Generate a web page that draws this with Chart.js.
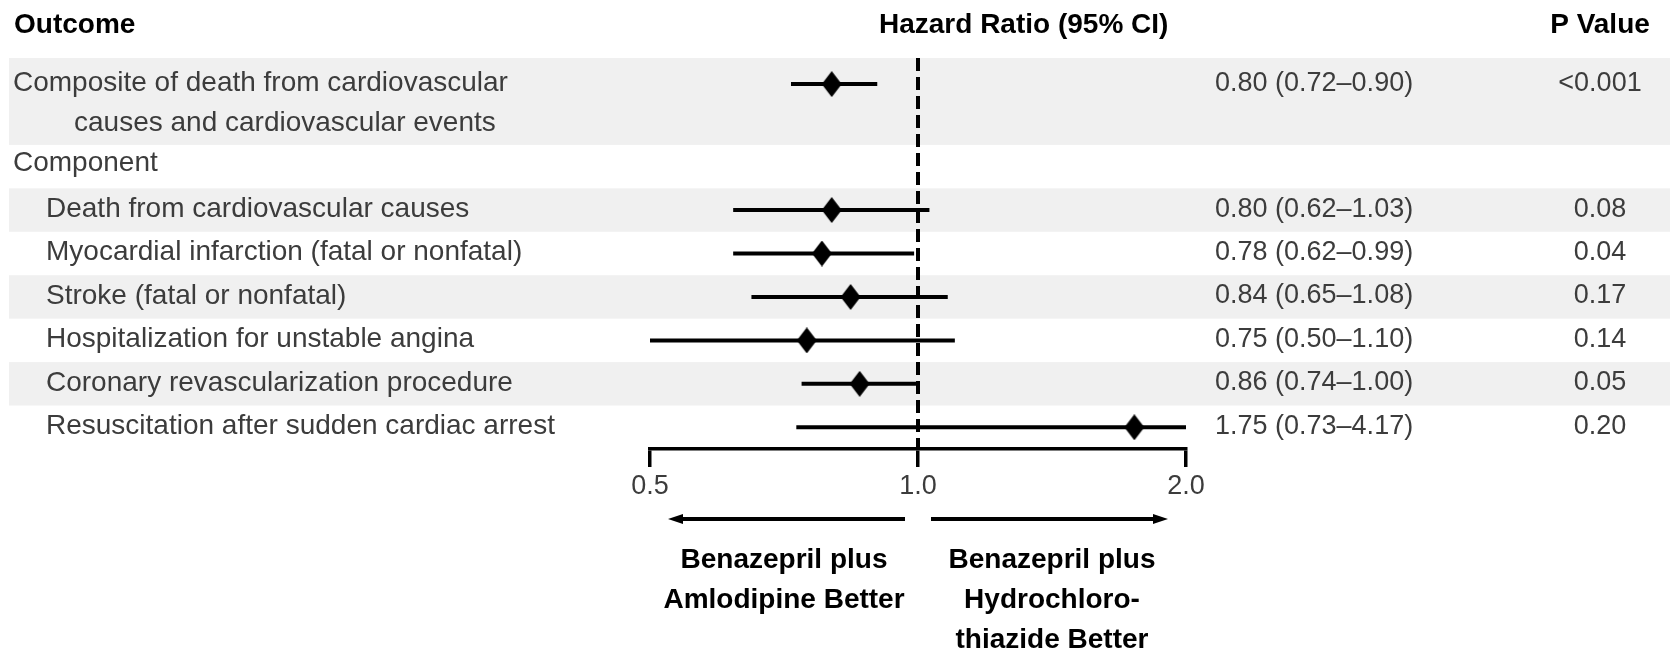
<!DOCTYPE html>
<html>
<head>
<meta charset="utf-8">
<script src="https://cdn.jsdelivr.net/npm/chart.js@4.4.0/dist/chart.umd.min.js"></script>
<style>
  html, body { margin: 0; padding: 0; background: #fff; }
  canvas { display: block; }
</style>
</head>
<body>
<canvas id="forest" width="1670" height="650"></canvas>
<script>
// --- Data ---
const outcomes = [
    ["Composite of death from cardiovascular", "causes and cardiovascular events"],
    ["Component"],
    ["Death from cardiovascular causes"],
    ["Myocardial infarction (fatal or nonfatal)"],
    ["Stroke (fatal or nonfatal)"],
    ["Hospitalization for unstable angina"],
    ["Coronary revascularization procedure"],
    ["Resuscitation after sudden cardiac arrest"]
];
const hazardRatios = [0.80, null, 0.80, 0.78, 0.84, 0.75, 0.86, 1.75];
const ciLower      = [0.72, null, 0.62, 0.62, 0.65, 0.50, 0.74, 0.73];
const ciUpper      = [0.90, null, 1.03, 0.99, 1.08, 1.10, 1.00, 4.17];
const pValues      = ["<0.001", "", "0.08", "0.04", "0.17", "0.14", "0.05", "0.20"];
const axisTicks    = [0.5, 1.0, 2.0];
const favourLeft   = ["Benazepril plus", "Amlodipine Better"];
const favourRight  = ["Benazepril plus", "Hydrochloro-", "thiazide Better"];

// --- Layout ---
const rowPos = [0.1, 1.95, 3, 4, 5, 6, 7, 8];     // slot of each row on the y scale
const indented = [false, false, true, true, true, true, true, true];
const bands = [[-0.5, 1.5], [2.5, 3.5], [4.5, 5.5], [6.5, 7.5]];
const FONT = '"Liberation Sans", Arial, sans-serif';
const TEXT = "#3c3c3c";

function diamond(w, h) {
    const c = document.createElement("canvas");
    c.width = w; c.height = h;
    const g = c.getContext("2d");
    g.fillStyle = "#000";
    g.beginPath();
    g.moveTo(w / 2, 0); g.lineTo(w, h / 2); g.lineTo(w / 2, h); g.lineTo(0, h / 2);
    g.closePath();
    g.fill();
    return c;
}
const marker = diamond(20, 26);

const points = [];
hazardRatios.forEach((hr, i) => { if (hr !== null) points.push({ x: hr, y: rowPos[i] }); });

function arrow(ctx, x1, x2, y) {
    const dir = Math.sign(x2 - x1);
    ctx.beginPath();
    ctx.moveTo(x1, y);
    ctx.lineTo(x2 - dir * 10, y);
    ctx.stroke();
    ctx.beginPath();
    ctx.moveTo(x2, y);
    ctx.lineTo(x2 - dir * 15, y - 5);
    ctx.lineTo(x2 - dir * 15, y + 5);
    ctx.closePath();
    ctx.fill();
}

// --- Decorations: bands, reference line, CIs, text ---
const forestDecor = {
    id: "forestDecor",
    beforeDraw(chart) {
        const { ctx, scales: { y } } = chart;
        ctx.save();
        ctx.fillStyle = "#f0f0f0";
        bands.forEach(([a, b]) => {
            const top = y.getPixelForValue(a);
            ctx.fillRect(9, top, chart.width - 9, y.getPixelForValue(b) - top);
        });
        ctx.restore();
    },
    beforeDatasetsDraw(chart) {
        const { ctx, chartArea, scales: { x, y } } = chart;
        ctx.save();
        // line of no effect
        ctx.strokeStyle = "#000";
        ctx.lineWidth = 4;
        ctx.setLineDash([13, 6]);
        const x1 = x.getPixelForValue(1);
        ctx.beginPath();
        ctx.moveTo(x1, chartArea.top);
        ctx.lineTo(x1, chartArea.bottom);
        ctx.stroke();
        ctx.setLineDash([]);
        // confidence intervals, clipped to the axis range
        hazardRatios.forEach((hr, i) => {
            if (hr === null) return;
            const lo = Math.max(ciLower[i], x.min);
            const hi = Math.min(ciUpper[i], x.max);
            const py = y.getPixelForValue(rowPos[i]);
            ctx.beginPath();
            ctx.moveTo(x.getPixelForValue(lo), py);
            ctx.lineTo(x.getPixelForValue(hi), py);
            ctx.stroke();
        });
        ctx.restore();
    },
    afterDraw(chart) {
        const { ctx, scales: { x, y } } = chart;
        ctx.save();
        ctx.textBaseline = "middle";

        // headers
        ctx.fillStyle = "#000";
        ctx.font = "bold 28px " + FONT;
        ctx.textAlign = "left";
        ctx.fillText("Outcome", 14, 25);
        ctx.fillText("Hazard Ratio (95% CI)", 879, 25);
        ctx.textAlign = "center";
        ctx.fillText("P Value", 1600, 25);

        // rows
        ctx.fillStyle = TEXT;
        outcomes.forEach((lines, i) => {
            const py = y.getPixelForValue(rowPos[i]) - 1;
            ctx.font = "28px " + FONT;
            ctx.textAlign = "left";
            lines.forEach((txt, k) => {
                const lx = indented[i] ? 46 : (k === 0 ? 13 : 74);
                ctx.fillText(txt, lx, py + k * 40);
            });
            if (hazardRatios[i] === null) return;
            ctx.font = "27px " + FONT;
            const hrText = hazardRatios[i].toFixed(2) + " (" + ciLower[i].toFixed(2) +
                "\u2013" + ciUpper[i].toFixed(2) + ")";
            ctx.fillText(hrText, 1215, py);
            ctx.textAlign = "center";
            ctx.fillText(pValues[i], 1600, py);
        });

        // direction arrows
        const p05 = x.getPixelForValue(axisTicks[0]);
        const p1 = x.getPixelForValue(axisTicks[1]);
        const p2 = x.getPixelForValue(axisTicks[2]);
        ctx.strokeStyle = "#000";
        ctx.fillStyle = "#000";
        ctx.lineWidth = 4;
        arrow(ctx, p1 - 13, p05 + 18, 519);
        arrow(ctx, p1 + 13, p2 - 18, 519);

        // favour labels
        ctx.font = "bold 28px " + FONT;
        ctx.textAlign = "center";
        favourLeft.forEach((t, k) => ctx.fillText(t, (p05 + p1) / 2, 560 + k * 40));
        favourRight.forEach((t, k) => ctx.fillText(t, (p1 + p2) / 2, 560 + k * 40));
        ctx.restore();
    }
};

// --- Chart.js Setup ---
const ctx = document.getElementById("forest").getContext("2d");
const forestChart = new Chart(ctx, {
    type: "scatter",
    data: {
        datasets: [{
            label: "Hazard ratio",
            data: points,
            pointStyle: marker,
            pointRadius: 10,
            backgroundColor: "#000"
        }]
    },
    options: {
        responsive: false,
        animation: false,
        events: [],
        layout: { padding: { left: 650, right: 484, top: 58, bottom: 141 } },
        plugins: {
            legend: { display: false },
            tooltip: { enabled: false }
        },
        scales: {
            x: {
                type: "logarithmic",
                min: 0.5,
                max: 2.0,
                afterBuildTicks: s => { s.ticks = axisTicks.map(v => ({ value: v })); },
                afterFit: s => { s.height = 60; },
                ticks: {
                    autoSkip: false,
                    maxRotation: 0,
                    padding: 3,
                    color: TEXT,
                    font: { family: FONT, size: 27 },
                    callback: v => Number(v).toFixed(1)
                },
                grid: { drawOnChartArea: false, drawTicks: true, tickLength: 18, color: "#000", lineWidth: 3.5 },
                border: { display: true, color: "#000", width: 3.5 }
            },
            y: {
                type: "linear",
                reverse: true,
                min: -0.5,
                max: 8.5,
                display: false
            }
        }
    },
    plugins: [forestDecor]
});
</script>
</body>
</html>
